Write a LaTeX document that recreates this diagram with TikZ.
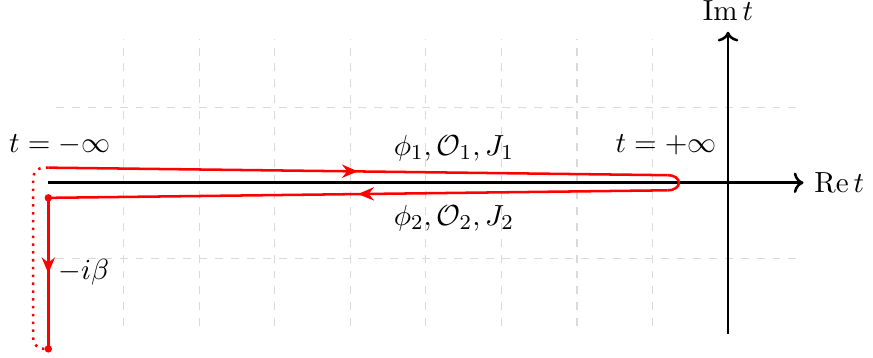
\documentclass[tikz,border=0pt,11pt]{standalone}
\usepackage{amsmath,amssymb}
\usepackage{tikz}
\usetikzlibrary{arrows.meta,calc,decorations.markings}

\tikzset{
  contour/.style={red, line width=0.95pt},
  midarrow/.style={postaction={decorate}, decoration={markings,
    mark=at position 0.5 with {\arrow{Stealth[length=6pt,width=5pt]}}}},
  axis/.style={line width=0.95pt, ->},
}

\begin{document}
\begin{tikzpicture}
\useasboundingbox (-9.64,-2.32) rectangle (1.92,2.42);
% griglia di sfondo
\draw[gray!30, dashed] (-8.9,-1.9) grid (0.9,1.9);

% assi
\coordinate (xl) at (-9,0);
\coordinate (xr) at (1,0);
\coordinate (yb) at (0,-2);
\coordinate (yt) at (0,2);
\draw[axis] (xl) -- (xr) node[right] (re) {$\operatorname{Re} t$};
\draw[axis] (yb) -- (yt) node[above] (im) {$\operatorname{Im} t$};

% contorno di Schwinger-Keldysh
\coordinate (tl) at (-9,0.2);
\coordinate (tr) at (-0.8,0.1);
\coordinate (br) at (-0.8,-0.1);
\coordinate (bl) at (-9,-0.2);
\coordinate (beta) at (-9,-2.2);
\draw[contour, midarrow] (tl) -- (tr);
\draw[contour] (tr) .. controls (-0.6,0.1) and (-0.6,-0.1) .. (br);
\draw[contour, midarrow] (br) -- (bl);
\draw[contour, midarrow] (bl) -- (beta);
\draw[contour, dotted, rounded corners=4pt] (tl) -- ++(-0.2,0) -- ++(0,-2.4) -- (beta);
\fill[red] (bl) circle (1.4pt);
\fill[red] (beta) circle (1.4pt);

% etichette
\node (minf) at (-8.85,0.5) {$t=-\infty$};
\node (pinf) at (-0.82,0.5) {$t=+\infty$};
\node (up) at (-3.63,0.46) {$\phi_1,\mathcal{O}_1,J_1$};
\node (down) at (-3.63,-0.47) {$\phi_2,\mathcal{O}_2,J_2$};
\node (ib) at (-8.53,-1.18) {$-i\beta$};
\end{tikzpicture}
\end{document}
